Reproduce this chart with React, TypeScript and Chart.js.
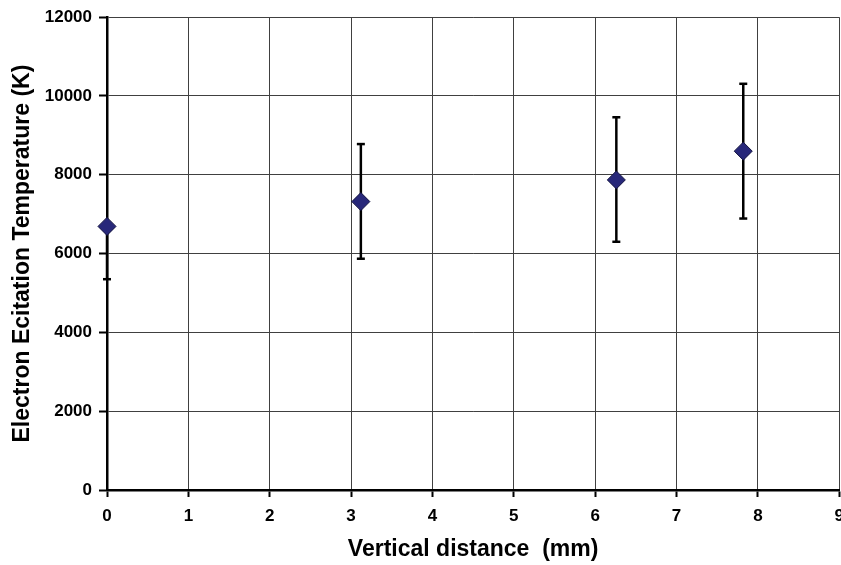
import React, { useEffect, useRef } from "react";
import { Chart, registerables } from "chart.js";

Chart.register(...registerables);

// Data
const xValues = [0, 3.12, 6.26, 7.82];
const yValues = [6690, 7320, 7870, 8600];
const errLower = [5350, 5870, 6300, 6890];
const errUpper = [6690, 8780, 9460, 10310];

const xTitle = "Vertical distance  (mm)";
const yTitle = "Electron Ecitation Temperature (K)";
const xMin = 0;
const xMax = 9;
const xStep = 1;
const yMin = 0;
const yMax = 12000;
const yStep = 2000;

const FONT = "'Liberation Sans', Arial, sans-serif";

const errorBarPlugin = {
  id: "errorBars",
  beforeDatasetsDraw(chart: any) {
    const ctx = chart.ctx;
    const xs = chart.scales.x;
    const ys = chart.scales.y;
    ctx.save();
    ctx.strokeStyle = "#000";
    ctx.lineWidth = 2.5;
    ctx.lineCap = "butt";
    for (let i = 0; i < xValues.length; i++) {
      const px = xs.getPixelForValue(xValues[i]);
      const pLo = ys.getPixelForValue(errLower[i]);
      const pHi = ys.getPixelForValue(errUpper[i]);
      ctx.beginPath();
      ctx.moveTo(px, pLo);
      ctx.lineTo(px, pHi);
      ctx.stroke();
      const half = 4;
      if (errLower[i] < yValues[i]) {
        ctx.beginPath();
        ctx.moveTo(px - half, pLo);
        ctx.lineTo(px + half, pLo);
        ctx.stroke();
      }
      if (errUpper[i] > yValues[i]) {
        ctx.beginPath();
        ctx.moveTo(px - half, pHi);
        ctx.lineTo(px + half, pHi);
        ctx.stroke();
      }
    }
    ctx.restore();
  },
};

export default function App() {
  const ref = useRef<HTMLCanvasElement | null>(null);

  useEffect(() => {
    if (!ref.current) return;
    const chart = new Chart(ref.current, {
      type: "scatter",
      data: {
        datasets: [
          {
            label: "Te",
            data: xValues.map((x, i) => ({ x, y: yValues[i] })),
            pointStyle: "rectRot",
            pointRadius: 9,
            pointHoverRadius: 9,
            backgroundColor: "#28287a",
            borderColor: "#12123f",
            borderWidth: 1,
            showLine: false,
            clip: false as any,
          },
        ],
      },
      options: {
        animation: false,
        responsive: false,
        maintainAspectRatio: false,
        events: [],
        layout: { padding: { top: 15, left: 0, right: 0, bottom: 0 } },
        plugins: {
          legend: { display: false },
          tooltip: { enabled: false },
        },
        scales: {
          x: {
            type: "linear",
            min: xMin,
            max: xMax,
            ticks: {
              stepSize: xStep,
              color: "#000",
              padding: 9,
              font: { family: FONT, size: 17, weight: "bold" },
              callback: (v: any) => String(v),
            },
            grid: {
              color: "#404040",
              lineWidth: 1,
              tickColor: "#000",
              tickLength: 7,
              tickWidth: 2,
            },
            border: { color: "#000", width: 2.5 },
            title: {
              display: true,
              text: xTitle,
              color: "#000",
              padding: { top: 0, bottom: 2 },
              font: { family: FONT, size: 23, weight: "bold" },
            },
            afterFit(scale: any) {
              scale.height = 75;
            },
          },
          y: {
            type: "linear",
            min: yMin,
            max: yMax,
            ticks: {
              stepSize: yStep,
              color: "#000",
              padding: 7,
              font: { family: FONT, size: 17, weight: "bold" },
              callback: (v: any) => String(v),
            },
            grid: {
              color: "#404040",
              lineWidth: 1,
              tickColor: "#000",
              tickLength: 8,
              tickWidth: 2,
            },
            border: { color: "#000", width: 2.5 },
            title: {
              display: true,
              text: yTitle,
              color: "#000",
              padding: { top: 9, bottom: 0 },
              font: { family: FONT, size: 23, weight: "bold" },
            },
            afterFit(scale: any) {
              scale.width = 107;
            },
          },
        },
      },
      plugins: [errorBarPlugin],
    });
    return () => chart.destroy();
  }, []);

  return (
    <div
      style={{
        position: "absolute",
        left: 0,
        top: 0,
        width: 841,
        height: 565,
        overflow: "hidden",
        background: "#fff",
      }}
    >
      <canvas ref={ref} width={853} height={565} style={{ display: "block" }} />
    </div>
  );
}
